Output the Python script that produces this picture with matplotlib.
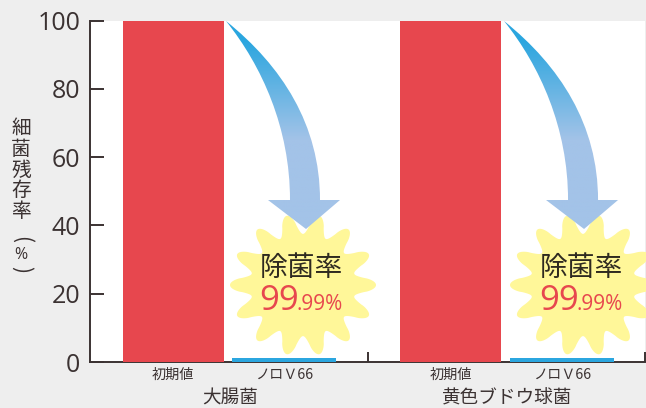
# Bacteria survival rate, initial vs Noro V66, with burst callouts

import numpy as np
import matplotlib
matplotlib.use("Agg")
import matplotlib.pyplot as plt
from matplotlib.path import Path
from matplotlib.patches import PathPatch
from matplotlib.colors import LinearSegmentedColormap

plt.rcParams['font.family'] = ['Noto Sans CJK JP', 'DejaVu Sans']

bacteria = ["大腸菌", "黄色ブドウ球菌"]
bar_labels = ["初期値", "ノロＶ66", "初期値", "ノロＶ66"]
bar_values = [100, 1.3, 100, 1.3]
y_ticks = [0, 20, 40, 60, 80, 100]
ylabel_chars = "細菌残存率"
callout_title = "除菌率"
callout_big = "99"
callout_small = ".99%"

W, H = 646, 408
TEXT = "#3b3232"
RED = "#E7474E"
BLUE = "#2BA6DF"
PALE = "#A3C3E8"
STAR = "#FFF799"
BG = "#EEEEEE"


def main():
    fig = plt.figure(figsize=(W / 100, H / 100), dpi=100, facecolor=BG)
    left, right, top, bottom = 90, 645, 20.5, 362
    ax = fig.add_axes([left / W, 1 - bottom / H, (right - left) / W, (bottom - top) / H])
    draw_bars(ax)

    # overlay in pixel coords for the decorations
    over = fig.add_axes([0, 0, 1, 1], facecolor="none")
    over.set_xlim(0, W)
    over.set_ylim(H, 0)
    over.axis("off")

    for dx in (0, 280):
        draw_star(over, 303 + dx, 285)
        draw_arrow(over, dx * 0.993)
        over.text(301 + dx, 268, callout_title, fontsize=20, color="#2f2a20",
                  ha="center", va="center")
        over.text(259 + dx, 301, callout_big, fontsize=25, color=RED, ha="left",
                  va="center", family="Open Sans")
        over.text(297 + dx, 305, callout_small, fontsize=15, color=RED, ha="left",
                  va="center", family="Open Sans")

    over.text(21, 170, "\n".join(ylabel_chars), fontsize=14.2, color=TEXT, ha="center",
              va="center", linespacing=0.98)
    over.text(21, 240, "(", fontsize=15, color=TEXT, ha="center", va="center", rotation=-90)
    over.text(21, 255, "%", fontsize=11.5, color=TEXT, ha="center", va="center",
              family="Open Sans")
    over.text(21, 270, ")", fontsize=15, color=TEXT, ha="center", va="center", rotation=-90)

    fig.savefig("out.png", dpi=100, facecolor=BG)


def draw_bars(ax):
    centers = [0.30, 0.70, 1.30, 1.70]
    widths = [0.365, 0.375, 0.365, 0.375]
    colors = [RED, BLUE, RED, BLUE]
    ax.bar(centers, bar_values, width=widths, color=colors, linewidth=0, zorder=3)
    ax.set_xlim(0, 2)
    ax.set_ylim(0, 100)
    ax.set_facecolor("white")
    for side in ("top", "right"):
        ax.spines[side].set_visible(False)
    for side in ("left", "bottom"):
        ax.spines[side].set_color(TEXT)
        ax.spines[side].set_linewidth(1.4)

    ax.set_yticks(y_ticks)
    ax.tick_params(axis="y", direction="in", length=10, width=1.4, color=TEXT,
                   labelsize=18, labelcolor=TEXT, pad=7)
    for lab in ax.get_yticklabels():
        lab.set_family("Open Sans")

    ax.set_xticks([1, 2])
    ax.set_xticklabels([])
    ax.tick_params(axis="x", which="major", direction="in", length=7, width=1.4, color=TEXT)
    ax.set_xticks(centers, minor=True)
    ax.set_xticklabels(bar_labels, minor=True)
    ax.tick_params(axis="x", which="minor", length=0, labelsize=10.2, labelcolor=TEXT, pad=4)

    trans = ax.get_xaxis_transform()
    for x, name in zip([0.505, 1.505], bacteria):
        ax.text(x, -0.108, name, transform=trans, fontsize=13.4, color=TEXT,
                ha="center", va="center", clip_on=False)


def draw_star(ax, cx, cy, points=14):
    theta = np.linspace(0, 2 * np.pi, 720)
    wave = np.cos(points * theta)
    # sharper tips, rounder valleys
    r = 0.86 + 0.14 * (np.sign(wave) * np.abs(wave) ** 0.85)
    ax.fill(cx + 73 * r * np.cos(theta), cy + 71 * r * np.sin(theta), color=STAR, lw=0, zorder=2)


def draw_arrow(ax, dx):
    verts = [(226, 21), (282, 66), (320, 125), (320, 200), (340, 200), (306, 229),
             (268, 200), (290, 200), (290, 128), (262, 66), (226, 21), (226, 21)]
    verts = [(x + dx, y) for x, y in verts]
    codes = [Path.MOVETO, Path.CURVE4, Path.CURVE4, Path.CURVE4, Path.LINETO, Path.LINETO,
             Path.LINETO, Path.LINETO, Path.CURVE4, Path.CURVE4, Path.CURVE4, Path.CLOSEPOLY]
    patch = PathPatch(Path(verts, codes), facecolor="none", edgecolor="none", zorder=3)
    ax.add_patch(patch)
    cmap = LinearSegmentedColormap.from_list("arrow", [BLUE, PALE], N=256)
    grad = np.clip((np.linspace(21, 232, 212) - 40) / 100, 0, 1)[:, None]
    im = ax.imshow(grad, extent=(220 + dx, 345 + dx, 232, 21), cmap=cmap, vmin=0, vmax=1,
                   aspect="auto", zorder=3)
    im.set_clip_path(patch)
    ax.set_xlim(0, W)
    ax.set_ylim(H, 0)


if __name__ == "__main__":
    main()
